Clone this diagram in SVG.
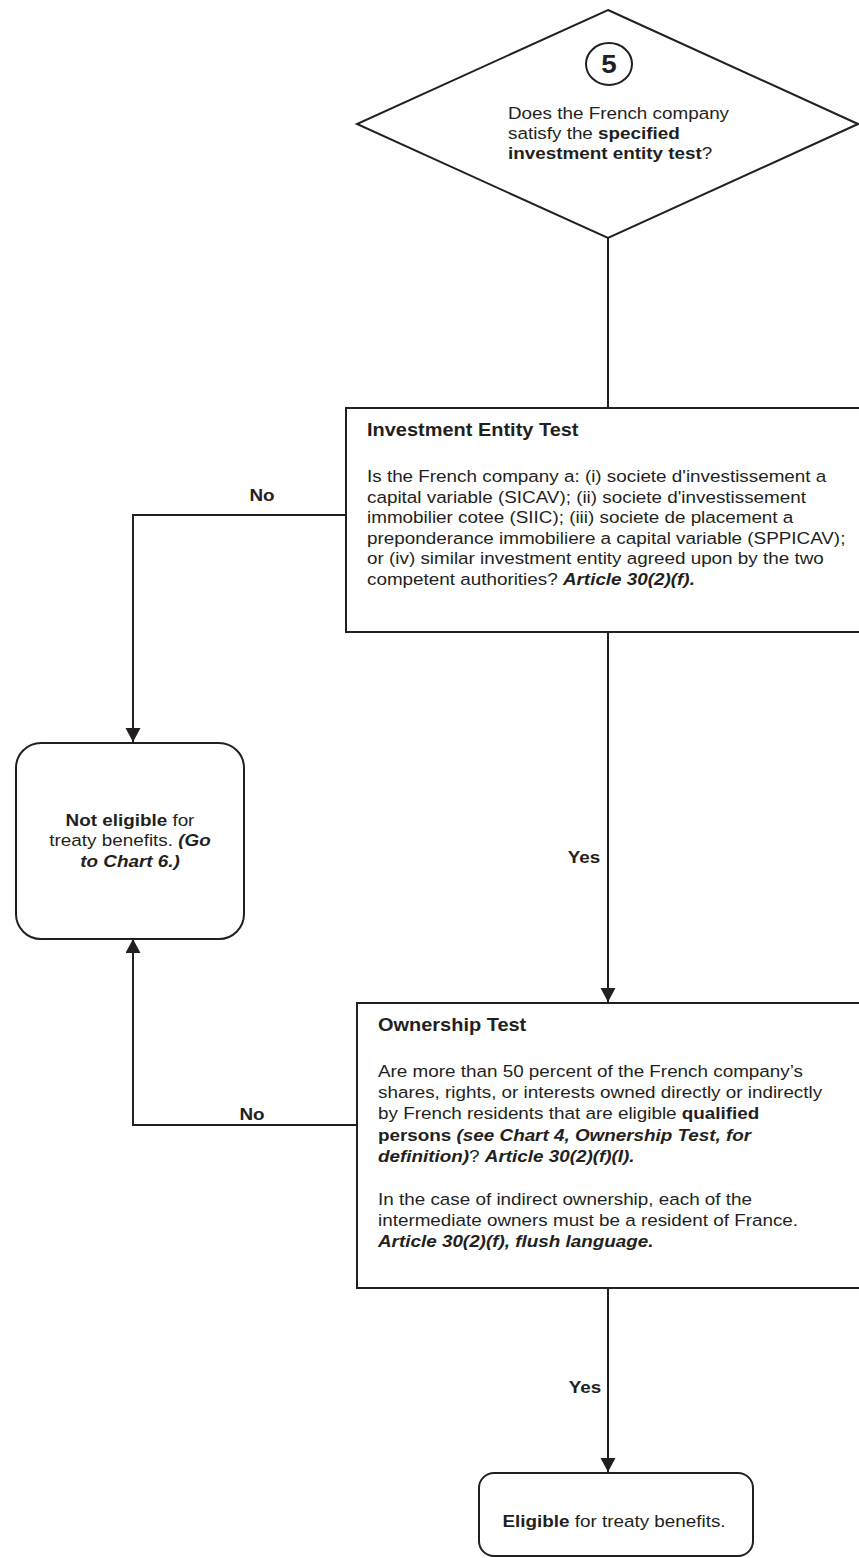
<svg xmlns="http://www.w3.org/2000/svg" width="859" height="1558" viewBox="0 0 859 1558">
<style>
.shape{fill:#fff;stroke:#231f20;stroke-width:2}
.conn{fill:none;stroke:#231f20;stroke-width:2}
text{font-family:"Liberation Sans",Arial,Helvetica,sans-serif;fill:#231f20;font-size:17px}
.b{font-weight:bold}
.bi{font-weight:bold;font-style:italic}
.t{font-weight:bold;font-size:18px}
.lbl{font-weight:bold;font-size:17px;text-anchor:middle}
.mid{text-anchor:middle}
</style>
<defs>
<marker id="ah" markerWidth="16" markerHeight="16" refX="14" refY="7.5" orient="auto" markerUnits="userSpaceOnUse">
<path d="M0,0 L14,7.5 L0,15 Z" fill="#231f20"/>
</marker>
</defs>
<rect width="859" height="1558" fill="#fff"/>

<g id="connectors">
<path class="conn" d="M608,238 V408"/>
<path class="conn" d="M346,515 H133 V742" marker-end="url(#ah)"/>
<path class="conn" d="M608,632 V1002" marker-end="url(#ah)"/>
<path class="conn" d="M357,1125 H133 V939" marker-end="url(#ah)"/>
<path class="conn" d="M608,1288 V1472" marker-end="url(#ah)"/>
<g transform="translate(262 0) scale(1.11 1)"><text class="lbl" x="0" y="501">No</text></g>
<g transform="translate(584 0) scale(1.11 1)"><text class="lbl" x="0" y="863">Yes</text></g>
<g transform="translate(252 0) scale(1.11 1)"><text class="lbl" x="0" y="1120">No</text></g>
<g transform="translate(585 0) scale(1.11 1)"><text class="lbl" x="0" y="1393">Yes</text></g>
</g>

<g id="node-decision5">
<polygon class="shape" points="608,10 858,124 608,238 357,124"/>
<ellipse class="shape" cx="609" cy="64" rx="23" ry="21"/>
<g transform="translate(609 0) scale(1.11 1)"><text class="mid" x="0" y="73" style="font-weight:bold;font-size:25px">5</text></g>
<g transform="translate(508 0) scale(1.11 1)">
<text x="0" y="119">Does the French company</text>
<text x="0" y="139">satisfy the <tspan class="b">specified</tspan></text>
<text x="0" y="159"><tspan class="b">investment entity test</tspan>?</text>
</g>
</g>

<g id="node-investment">
<rect class="shape" x="346" y="408" width="514" height="224"/>
<g transform="translate(367 0) scale(1.11 1)">
<text class="t" x="0" y="436">Investment Entity Test</text>
<text x="0" y="482">Is the French company a: (i) societe d'investissement a</text>
<text x="0" y="502.6">capital variable (SICAV); (ii) societe d'investissement</text>
<text x="0" y="523.2">immobilier cotee (SIIC); (iii) societe de placement a</text>
<text x="0" y="543.8">preponderance immobiliere a capital variable (SPPICAV);</text>
<text x="0" y="564.4">or (iv) similar investment entity agreed upon by the two</text>
<text x="0" y="585">competent authorities? <tspan class="bi">Article 30(2)(f).</tspan></text>
</g>
</g>

<g id="node-not-eligible">
<rect class="shape" x="16" y="743" width="228" height="196" rx="25" ry="25"/>
<g transform="translate(130 0) scale(1.11 1)">
<text class="mid" x="0" y="826"><tspan class="b">Not eligible</tspan> for</text>
<text class="mid" x="0" y="846.5">treaty benefits. <tspan class="bi">(Go</tspan></text>
<text class="mid" x="0" y="867"><tspan class="bi">to Chart 6.)</tspan></text>
</g>
</g>

<g id="node-ownership">
<rect class="shape" x="357" y="1003" width="503" height="285"/>
<g transform="translate(378 0) scale(1.11 1)">
<text class="t" x="0" y="1031">Ownership Test</text>
<text x="0" y="1077">Are more than 50 percent of the French company’s</text>
<text x="0" y="1098.2">shares, rights, or interests owned directly or indirectly</text>
<text x="0" y="1119.4">by French residents that are eligible <tspan class="b">qualified</tspan></text>
<text x="0" y="1140.6"><tspan class="b">persons </tspan><tspan class="bi">(see Chart 4, Ownership Test, for</tspan></text>
<text x="0" y="1161.8"><tspan class="bi">definition)</tspan>? <tspan class="bi">Article 30(2)(f)(I).</tspan></text>
<text x="0" y="1205">In the case of indirect ownership, each of the</text>
<text x="0" y="1226">intermediate owners must be a resident of France.</text>
<text x="0" y="1247"><tspan class="bi">Article 30(2)(f), flush language.</tspan></text>
</g>
</g>

<g id="node-eligible">
<rect class="shape" x="479" y="1473" width="274" height="83" rx="15" ry="15"/>
<g transform="translate(614 0) scale(1.11 1)">
<text class="mid" x="0" y="1527"><tspan class="b">Eligible</tspan> for treaty benefits.</text>
</g>
</g>
</svg>
